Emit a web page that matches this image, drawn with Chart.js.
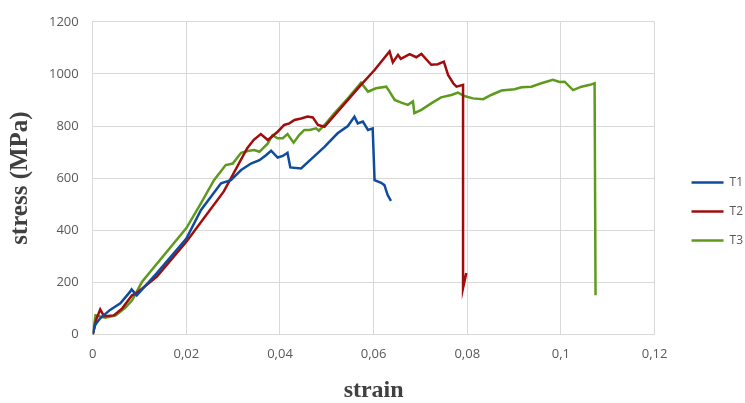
<!DOCTYPE html>
<html>
<head>
<meta charset="utf-8">
<script src="https://cdn.jsdelivr.net/npm/chart.js@4"></script>
<style>
  html, body { margin: 0; padding: 0; background: #ffffff; }
  #wrap { width: 745px; height: 403px; }
</style>
</head>
<body>
<div id="wrap"><canvas id="chart"></canvas></div>
<script>
// strain / stress readings for each specimen
const t1Strain = [0, 0.0005, 0.0016, 0.0037, 0.0059, 0.0080, 0.0083, 0.0094, 0.0137, 0.0200, 0.0231, 0.0274, 0.0295, 0.0317, 0.0338, 0.0356, 0.0370, 0.0381, 0.0395, 0.0406, 0.0416, 0.0422, 0.0445, 0.0466, 0.0495, 0.0523, 0.0545, 0.0559, 0.0566, 0.0577, 0.0588, 0.0598, 0.0602, 0.0616, 0.0623, 0.0630, 0.0637];
const t1Stress = [0, 36, 62, 94, 119, 164, 173, 150, 235, 368, 477, 580, 592, 631, 656, 669, 688, 705, 679, 685, 697, 641, 637, 672, 720, 772, 800, 836, 810, 817, 785, 791, 592, 582, 573, 535, 513];

const t2Strain = [0, 0.0008, 0.0016, 0.0024, 0.0045, 0.0063, 0.0084, 0.0094, 0.0137, 0.0200, 0.0280, 0.0330, 0.0344, 0.0359, 0.0374, 0.0395, 0.0409, 0.0420, 0.0431, 0.0445, 0.0459, 0.0470, 0.0481, 0.0495, 0.0526, 0.0573, 0.0602, 0.0634, 0.0641, 0.0652, 0.0658, 0.0677, 0.0691, 0.0702, 0.0723, 0.0737, 0.0750, 0.0759, 0.0770, 0.0777, 0.0791, 0.0791, 0.0798];
const t2Stress = [0, 60, 96, 70, 73, 100, 150, 159, 222, 356, 549, 715, 747, 769, 746, 778, 804, 810, 823, 829, 836, 833, 804, 797, 861, 958, 1015, 1086, 1044, 1073, 1058, 1076, 1064, 1077, 1035, 1037, 1047, 996, 964, 951, 958, 178, 236];

const t3Strain = [0, 0.0006, 0.0027, 0.0049, 0.0070, 0.0084, 0.0105, 0.0200, 0.0231, 0.0259, 0.0284, 0.0299, 0.0317, 0.0334, 0.0345, 0.0356, 0.0374, 0.0384, 0.0395, 0.0406, 0.0416, 0.0429, 0.0441, 0.0452, 0.0463, 0.0477, 0.0483, 0.0495, 0.0516, 0.0545, 0.0573, 0.0588, 0.0605, 0.0627, 0.0634, 0.0645, 0.0659, 0.0673, 0.0684, 0.0687, 0.0702, 0.0723, 0.0744, 0.0766, 0.0780, 0.0794, 0.0812, 0.0834, 0.0851, 0.0873, 0.0901, 0.0916, 0.0937, 0.0958, 0.0983, 0.0997, 0.1008, 0.1026, 0.1044, 0.1062, 0.1072, 0.1074];
const t3Stress = [0, 73, 64, 73, 103, 131, 201, 408, 503, 592, 650, 656, 697, 705, 708, 701, 733, 765, 753, 753, 769, 736, 765, 785, 785, 791, 782, 804, 849, 906, 966, 932, 945, 951, 932, 900, 890, 881, 894, 849, 862, 887, 910, 919, 928, 915, 906, 903, 919, 936, 941, 949, 951, 964, 977, 969, 970, 938, 951, 958, 964, 150];

const seriesNames = ['T1', 'T2', 'T3'];
const seriesColors = ['#0f4c9e', '#a10d0d', '#5e9a1e'];
const xTickLabels = ['0', '0,02', '0,04', '0,06', '0,08', '0,1', '0,12'];

function toPoints(xs, ys) {
    return xs.map((x, i) => ({ x: x, y: ys[i] }));
}

const tickFont = { family: '"Open Sans", sans-serif', size: 13 };
const serif = '"Liberation Serif", serif';

// push the legend further right of the plot (and a bit lower), like the Excel original
const legendShift = {
    id: 'legendShift',
    afterLayout(chart) {
        chart.legend.left += 20;
        chart.legend.right += 20;
        chart.legend.top += 3;
        chart.legend.bottom += 3;
    }
};

const ctx = document.getElementById('chart').getContext('2d');
new Chart(ctx, {
    type: 'scatter',
    data: {
        datasets: [
            { label: seriesNames[0], data: toPoints(t1Strain, t1Stress) },
            { label: seriesNames[1], data: toPoints(t2Strain, t2Stress) },
            { label: seriesNames[2], data: toPoints(t3Strain, t3Stress) },
        ].map((ds, i) => Object.assign(ds, {
            showLine: true,
            borderColor: seriesColors[i],
            backgroundColor: seriesColors[i],
            borderWidth: 2.5,
            pointRadius: 0,
            pointStyle: 'line',
            tension: 0,
        }))
    },
    options: {
        responsive: true,
        maintainAspectRatio: false,
        animation: false,
        layout: { padding: { left: 4, right: 12, top: 14, bottom: 0 } },
        scales: {
            x: {
                type: 'linear',
                min: 0,
                max: 0.12,
                ticks: {
                    stepSize: 0.02,
                    color: '#595959',
                    font: tickFont,
                    padding: 12,
                    callback: function(value, index) {
                        return xTickLabels[index];
                    }
                },
                grid: { color: '#d9d9d9', drawTicks: false },
                border: { color: '#d9d9d9' },
                title: {
                    display: true,
                    text: 'strain',
                    color: '#404040',
                    font: { family: serif, size: 24, weight: 'bold', lineHeight: 1 },
                    padding: { top: 5, bottom: 0 }
                }
            },
            y: {
                min: 0,
                max: 1200,
                ticks: {
                    stepSize: 200,
                    color: '#595959',
                    font: tickFont,
                    padding: 14,
                    callback: function(value) {
                        return String(value);
                    }
                },
                grid: { color: '#d9d9d9', drawTicks: false },
                border: { color: '#d9d9d9' },
                title: {
                    display: true,
                    text: 'stress (MPa)',
                    color: '#404040',
                    font: { family: serif, size: 25, weight: 'bold', lineHeight: 1 },
                    padding: { top: 4, bottom: 2 }
                }
            }
        },
        plugins: {
            legend: {
                position: 'right',
                labels: {
                    usePointStyle: true,
                    pointStyleWidth: 32,
                    color: '#595959',
                    font: { family: '"Open Sans", sans-serif', size: 12 },
                    padding: 17
                }
            },
            tooltip: { enabled: false }
        }
    },
    plugins: [legendShift]
});
</script>
</body>
</html>
